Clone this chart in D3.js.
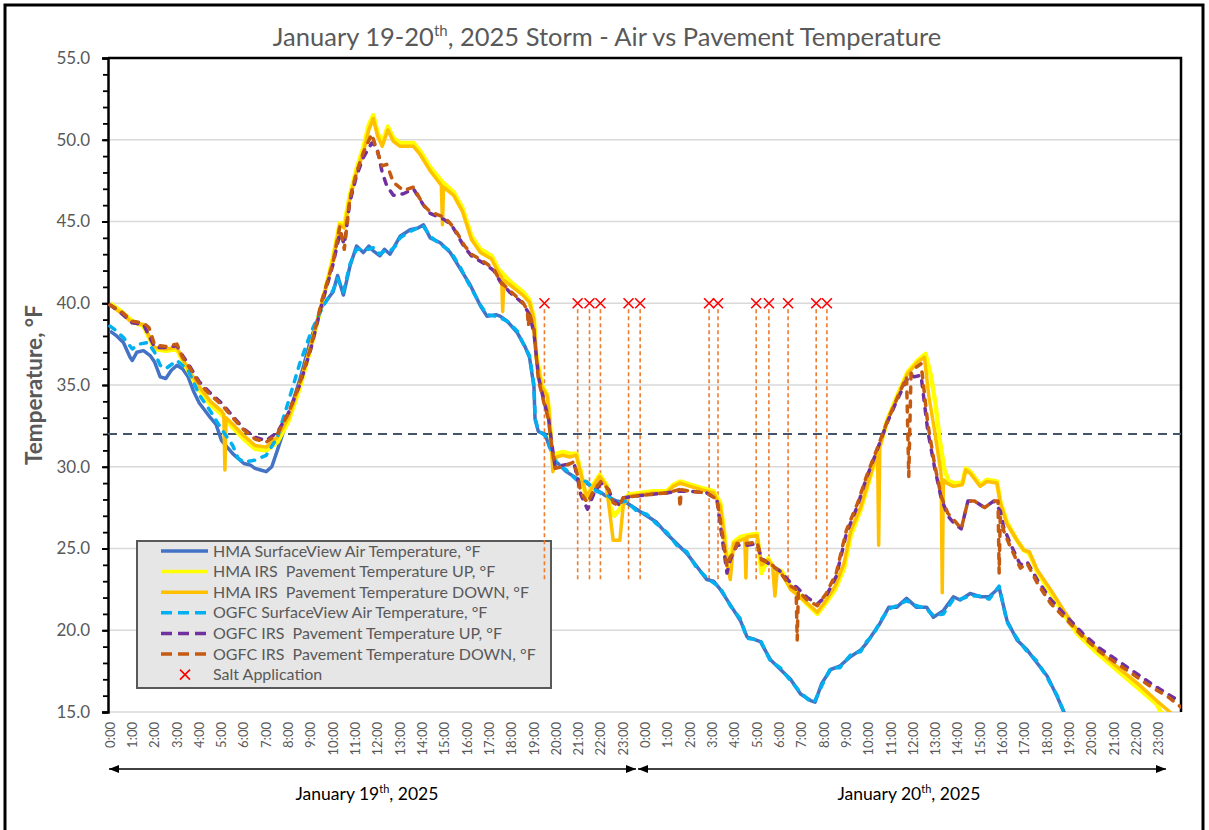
<!DOCTYPE html>
<html>
<head>
<meta charset="utf-8">
<script src="https://cdn.jsdelivr.net/npm/d3@7"></script>
<style>
  body { margin: 0; background: #fff; }
  svg text { font-family: Lato, "Open Sans", sans-serif; }
</style>
</head>
<body>
<div id="viz"></div>
<script>
// hour of the storm (0 = Jan 19 0:00, 24 = Jan 20 0:00), temperature in °F
var hmaAir = [[0,38.3],[0.3,38.0],[0.6,37.6],[0.9,36.7],[1.0,36.5],[1.2,37.0],[1.5,37.1],[1.8,36.8],[2.0,36.4],[2.25,35.5],[2.5,35.4],[2.75,35.9],[3.0,36.2],[3.25,36.0],[3.5,35.5],[3.75,34.6],[4.0,33.9],[4.5,33.0],[4.75,32.6],[5.0,31.6],[5.25,31.2],[5.5,30.8],[6.0,30.2],[6.3,30.1],[6.5,29.9],[6.75,29.8],[7.0,29.7],[7.25,30.0],[7.5,31.0],[8.0,33.1],[8.5,35.3],[9.0,37.8],[9.5,39.8],[10.0,40.7],[10.2,41.7],[10.46,40.5],[10.76,42.3],[11.05,43.5],[11.35,43.1],[11.6,43.5],[11.8,43.2],[12.1,42.9],[12.3,43.3],[12.55,43.0],[12.8,43.6],[13.0,44.1],[13.45,44.5],[13.8,44.6],[14.05,44.8],[14.35,44.0],[14.8,43.7],[15.25,43.1],[15.7,42.1],[16.15,41.1],[16.6,39.85],[16.9,39.2],[17.3,39.3],[17.5,39.2],[17.8,38.9],[18.25,38.2],[18.6,37.35],[18.8,36.7],[19.0,34.9],[19.05,32.9],[19.2,32.15],[19.5,32.0],[19.7,31.2],[20.0,30.3],[20.45,29.7],[20.9,29.3],[21.35,29.0],[21.8,28.6],[22.25,28.2],[22.7,27.9],[23.15,27.8],[23.6,27.4],[24.05,27.0],[24.5,26.6],[24.95,25.9],[25.4,25.3],[25.85,24.7],[26.3,23.9],[26.75,23.1],[27.05,23.0],[27.35,22.5],[27.8,21.55],[28.25,20.6],[28.55,19.6],[29.15,19.3],[29.6,18.2],[30.05,17.6],[30.5,17.0],[30.95,16.1],[31.4,15.7],[31.6,15.6],[31.9,16.75],[32.3,17.6],[32.7,17.8],[33.2,18.4],[33.65,18.8],[33.9,19.2],[34.2,19.8],[34.5,20.4],[34.9,21.4],[35.25,21.4],[35.7,21.95],[36.15,21.4],[36.6,21.4],[36.9,20.8],[37.35,21.2],[37.8,22.05],[38.1,21.85],[38.55,22.25],[39.0,22.05],[39.4,22.05],[39.85,22.6],[40.2,20.6],[40.65,19.4],[41.1,18.8],[41.55,18.0],[42.0,17.2],[42.45,15.95],[42.75,15.0],[43.2,14.0],[44.0,12.5]];

var hmaUp = [[0,40.0],[0.5,39.5],[1.0,38.9],[1.5,38.6],[2.0,37.2],[2.5,37.1],[3.0,37.2],[3.25,36.5],[3.5,35.9],[4.0,34.7],[4.5,33.8],[5.0,33.2],[5.5,32.4],[6.0,31.7],[6.5,31.1],[7.0,31.0],[7.5,31.5],[8.0,32.8],[8.5,34.8],[9.0,37.3],[9.5,40.0],[10.0,42.8],[10.3,44.9],[10.5,44.8],[10.75,46.6],[11.05,48.2],[11.35,49.5],[11.6,50.9],[11.8,51.5],[12.0,50.4],[12.2,49.8],[12.45,50.8],[12.7,50.1],[13.0,49.8],[13.6,49.8],[13.9,49.3],[14.35,48.3],[14.9,47.4],[15.4,46.8],[15.8,45.8],[16.2,44.1],[16.6,43.3],[17.1,42.9],[17.4,42.1],[17.95,41.3],[18.5,40.7],[18.8,40.2],[19.0,39.1],[19.1,36.9],[19.35,35.0],[19.6,34.4],[19.7,33.0],[19.8,31.0],[19.9,30.0],[20.0,30.8],[20.3,30.9],[20.6,30.8],[20.9,30.8],[21.1,29.7],[21.35,28.0],[21.65,28.9],[21.95,29.5],[22.25,28.9],[22.4,27.6],[22.6,27.0],[22.85,27.4],[23.0,27.8],[23.25,28.3],[23.75,28.4],[24.35,28.5],[24.95,28.5],[25.25,28.9],[25.55,29.1],[26.0,28.9],[26.5,28.7],[27.05,28.5],[27.35,27.8],[27.5,26.3],[27.65,24.5],[27.8,24.2],[27.95,25.4],[28.25,25.7],[28.55,25.8],[29.0,25.9],[29.2,23.5],[29.5,24.4],[29.75,23.8],[30.1,23.6],[30.5,22.6],[30.9,22.1],[31.25,21.6],[31.7,21.0],[32.1,21.7],[32.5,22.5],[32.9,23.8],[33.2,25.8],[33.65,27.4],[34.1,29.5],[34.45,31.0],[34.85,32.9],[35.3,34.4],[35.75,35.8],[36.2,36.5],[36.55,36.9],[36.8,35.5],[37.0,33.8],[37.2,31.5],[37.4,29.8],[37.6,29.1],[37.8,29.0],[38.2,29.0],[38.35,29.9],[38.55,29.7],[39.0,28.9],[39.3,29.2],[39.75,29.1],[39.9,27.9],[40.2,26.6],[40.65,25.5],[40.95,24.9],[41.2,24.7],[41.55,23.6],[42.15,22.3],[42.75,21.0],[43.35,19.8],[44.25,18.6],[45.1,17.6],[46.05,16.5],[46.9,15.5],[47.1,15.0],[48.0,14.1]];

var hmaDown = [[0,39.9],[0.5,39.4],[1.0,38.8],[1.5,38.7],[2.0,37.3],[2.5,37.2],[3.0,37.3],[3.25,36.6],[3.5,36.0],[4.0,34.9],[4.5,34.0],[5.0,33.4],[5.1,33.2],[5.15,29.8],[5.2,33.0],[5.5,32.6],[6.0,31.9],[6.5,31.3],[7.0,31.2],[7.5,31.8],[8.0,33.0],[8.5,35.0],[9.0,37.4],[9.5,40.0],[10.0,42.7],[10.3,44.8],[10.5,44.6],[10.75,46.4],[11.05,48.0],[11.35,49.2],[11.6,50.6],[11.8,51.3],[12.0,50.2],[12.2,49.6],[12.45,50.6],[12.7,49.9],[13.0,49.6],[13.6,49.6],[13.9,49.1],[14.35,48.1],[14.85,47.2],[14.9,44.8],[14.95,47.1],[15.4,46.6],[15.8,45.6],[16.2,43.9],[16.6,43.1],[17.1,42.7],[17.4,41.9],[17.55,41.6],[17.6,39.5],[17.65,41.4],[17.95,41.1],[18.5,40.5],[18.8,40.05],[19.0,39.0],[19.1,36.7],[19.35,34.9],[19.6,34.3],[19.7,32.9],[19.8,30.8],[19.85,29.7],[20.0,30.6],[20.3,30.7],[20.6,30.6],[20.9,30.7],[21.1,29.6],[21.35,28.2],[21.65,28.8],[21.95,29.4],[22.25,28.8],[22.4,27.2],[22.55,25.5],[22.85,25.5],[23.0,27.6],[23.25,28.2],[23.75,28.3],[24.35,28.4],[24.95,28.4],[25.25,28.8],[25.55,29.0],[26.0,28.8],[26.5,28.6],[27.05,28.4],[27.35,27.6],[27.5,26.1],[27.65,24.1],[27.8,23.1],[27.95,25.3],[28.25,25.5],[28.45,25.6],[28.5,23.2],[28.55,25.7],[29.0,25.8],[29.2,24.0],[29.5,24.3],[29.7,23.9],[29.8,22.1],[29.9,23.6],[30.1,23.5],[30.5,22.5],[30.9,22.05],[31.25,21.65],[31.7,21.1],[32.1,21.85],[32.5,22.7],[32.9,24.1],[33.2,26.1],[33.65,27.55],[34.1,29.6],[34.4,31.0],[34.45,25.2],[34.5,31.2],[34.85,32.9],[35.3,34.3],[35.75,35.7],[36.2,36.4],[36.5,36.7],[36.7,34.3],[36.95,32.25],[37.2,30.0],[37.25,29.5],[37.3,22.3],[37.35,29.2],[37.5,29.0],[37.8,28.8],[38.2,28.9],[38.35,29.8],[38.55,29.6],[39.0,28.8],[39.3,29.1],[39.75,29.0],[39.9,27.8],[40.2,26.5],[40.65,25.5],[40.95,24.9],[41.2,24.8],[41.55,23.7],[42.15,22.5],[42.75,21.2],[43.35,20.0],[44.25,18.8],[45.1,17.8],[46.05,16.75],[46.9,15.7],[47.5,15.0],[48.0,14.4]];

var ogfcAir = [[0,38.6],[0.3,38.3],[0.6,37.9],[1.0,37.2],[1.3,37.5],[1.7,37.6],[2.0,37.0],[2.25,36.2],[2.5,36.0],[3.0,36.5],[3.5,35.9],[4.0,34.4],[4.5,33.4],[5.0,32.3],[5.5,31.3],[5.75,30.5],[6.0,30.3],[6.5,30.4],[7.0,30.7],[7.5,31.8],[8.0,34.0],[8.5,36.3],[9.0,38.2],[9.5,39.7],[10.0,40.8],[10.2,41.5],[10.46,40.7],[10.76,42.4],[11.05,43.3],[11.35,43.3],[11.6,43.3],[11.8,43.4],[12.1,43.0],[12.3,43.2],[12.55,43.2],[12.8,43.5],[13.0,44.0],[13.45,44.4],[13.8,44.6],[14.05,44.7],[14.35,44.1],[14.8,43.6],[15.25,43.2],[15.7,42.2],[16.15,41.0],[16.6,39.9],[16.9,39.3],[17.3,39.2],[17.5,39.1],[17.8,38.9],[18.25,38.3],[18.6,37.3],[18.8,36.8],[19.0,35.0],[19.05,33.0],[19.2,32.2],[19.5,31.9],[19.7,31.3],[20.0,30.2],[20.45,29.8],[20.9,29.2],[21.35,29.1],[21.8,28.5],[22.25,28.3],[22.7,27.8],[23.15,27.9],[23.6,27.3],[24.05,27.1],[24.5,26.5],[24.95,26.0],[25.4,25.2],[25.85,24.8],[26.3,23.8],[26.75,23.2],[27.05,22.9],[27.35,22.6],[27.8,21.5],[28.25,20.7],[28.55,19.5],[29.15,19.4],[29.6,18.1],[30.05,17.7],[30.5,16.9],[30.95,16.2],[31.4,15.6],[31.6,15.7],[31.9,16.6],[32.3,17.7],[32.7,17.7],[33.2,18.5],[33.65,18.7],[33.9,19.3],[34.2,19.7],[34.5,20.5],[34.9,21.3],[35.25,21.5],[35.7,21.8],[36.15,21.5],[36.6,21.3],[36.9,20.9],[37.35,21.0],[37.8,21.9],[38.1,21.9],[38.55,22.1],[39.0,22.1],[39.4,21.9],[39.85,22.7],[40.2,20.5],[40.65,19.5],[41.1,18.7],[41.55,18.1],[42.0,17.1],[42.45,16.0],[42.75,15.0],[43.2,14.0],[44.0,12.5]];

var ogfcUp = [[0,39.9],[0.5,39.4],[1.0,38.8],[1.5,38.7],[2.0,37.3],[2.5,37.3],[3.0,37.4],[3.25,36.8],[3.5,36.3],[4.0,35.2],[4.5,34.5],[5.0,33.9],[5.5,33.1],[6.0,32.3],[6.5,31.8],[7.0,31.6],[7.5,32.1],[8.0,33.3],[8.5,35.0],[9.0,37.2],[9.5,40.0],[10.0,42.4],[10.3,44.3],[10.5,43.6],[10.75,46.2],[11.05,47.8],[11.35,48.9],[11.73,49.8],[11.95,49.6],[12.2,48.0],[12.4,47.2],[12.7,46.6],[13.15,46.7],[13.6,47.0],[14.05,46.0],[14.35,45.5],[15.0,45.1],[15.3,44.8],[15.6,44.1],[15.9,43.4],[16.2,42.9],[16.8,42.4],[17.2,42.0],[17.5,41.3],[17.9,40.7],[18.5,40.0],[18.8,39.3],[19.0,38.2],[19.2,35.5],[19.45,34.0],[19.65,33.0],[19.8,31.4],[19.95,30.0],[20.3,30.1],[20.8,30.2],[21.0,29.0],[21.1,28.3],[21.4,27.4],[21.7,28.4],[22.0,29.0],[22.35,28.6],[22.55,27.9],[22.8,27.7],[23.0,28.1],[23.5,28.2],[24.2,28.3],[24.95,28.4],[25.5,28.5],[26.0,28.5],[26.75,28.4],[27.2,28.0],[27.4,26.0],[27.65,23.5],[27.8,24.3],[27.95,24.8],[28.1,25.2],[28.55,25.2],[29.0,25.3],[29.2,24.4],[29.6,24.0],[30.05,23.6],[30.5,22.9],[30.8,22.6],[31.25,22.0],[31.7,21.6],[32.1,22.1],[32.55,23.3],[33.0,25.9],[33.5,27.6],[33.9,29.3],[34.35,30.9],[34.8,32.6],[35.25,34.0],[35.7,35.3],[35.9,35.6],[36.05,35.5],[36.35,35.6],[36.65,32.2],[36.95,30.0],[37.25,28.1],[37.55,27.0],[37.85,26.5],[38.15,26.2],[38.45,27.9],[38.75,27.9],[39.2,27.5],[39.6,27.9],[39.9,27.3],[40.05,26.3],[40.35,25.3],[40.8,24.0],[41.1,24.2],[41.55,23.1],[42.15,21.9],[42.9,20.8],[43.6,19.8],[44.35,18.9],[45.1,18.2],[45.85,17.5],[46.65,16.75],[47.4,16.1],[48.0,15.6]];

var ogfcDown = [[0,39.9],[0.5,39.5],[1.0,38.9],[1.5,38.8],[1.75,38.5],[2.0,37.45],[2.5,37.35],[3.0,37.5],[3.25,36.7],[3.5,36.2],[4.0,35.1],[4.5,34.4],[5.0,33.8],[5.5,33.0],[6.0,32.25],[6.5,31.7],[7.0,31.5],[7.5,32.0],[8.0,33.3],[8.5,35.1],[9.0,37.3],[9.5,40.2],[10.0,42.5],[10.3,44.7],[10.5,43.3],[10.75,46.4],[11.05,48.0],[11.35,49.2],[11.73,50.35],[11.95,49.4],[12.2,48.4],[12.4,48.5],[12.7,47.4],[13.15,46.9],[13.6,47.1],[14.05,46.0],[14.35,45.6],[15.0,45.25],[15.3,44.8],[15.6,44.2],[15.9,43.5],[16.2,43.0],[16.8,42.5],[17.2,42.1],[17.5,41.3],[17.9,40.8],[18.5,40.05],[18.7,39.6],[18.75,38.6],[18.8,39.4],[19.0,38.4],[19.2,35.3],[19.45,33.9],[19.65,32.9],[19.8,31.2],[19.95,29.9],[20.3,30.0],[20.8,30.3],[21.0,29.2],[21.1,28.4],[21.4,27.8],[21.7,28.6],[22.0,29.1],[22.35,28.6],[22.55,27.8],[22.8,27.6],[23.0,28.1],[23.5,28.2],[24.2,28.3],[24.95,28.4],[25.5,28.6],[25.55,27.5],[25.6,28.6],[26.0,28.5],[26.75,28.4],[27.2,28.0],[27.4,26.3],[27.65,23.9],[27.8,24.5],[27.95,24.7],[28.1,25.3],[28.55,25.3],[29.0,25.4],[29.2,24.3],[29.6,24.1],[30.05,23.5],[30.5,22.7],[30.75,22.5],[30.8,19.4],[30.85,22.4],[31.25,21.85],[31.7,21.5],[32.1,22.25],[32.55,23.5],[33.0,26.1],[33.5,27.75],[33.9,29.4],[34.35,31.0],[34.8,32.65],[35.25,34.1],[35.7,35.5],[35.8,29.4],[35.9,35.7],[36.05,36.0],[36.35,36.3],[36.65,32.65],[36.95,30.2],[37.25,28.2],[37.55,27.15],[37.85,26.7],[38.15,26.2],[38.45,27.9],[38.75,27.9],[39.2,27.5],[39.6,27.9],[39.8,27.9],[39.85,23.5],[39.9,26.9],[40.05,26.1],[40.35,25.1],[40.8,23.8],[41.1,24.1],[41.55,22.9],[42.15,21.65],[42.9,20.6],[43.6,19.6],[44.35,18.7],[45.1,18.0],[45.85,17.3],[46.65,16.55],[47.4,15.95],[48.0,15.3]];

// salt application times (hours)
var saltHours = [19.47, 20.96, 21.49, 21.98, 23.24, 23.76, 26.85, 27.25, 28.96, 29.53, 30.39, 31.65, 32.13];
var saltLevel = 40, saltBottom = 23;
var freezing = 32;

var yTicks = [15, 20, 25, 30, 35, 40, 45, 50, 55];
var hourLabels = ["0:00","1:00","2:00","3:00","4:00","5:00","6:00","7:00","8:00","9:00","10:00","11:00",
  "12:00","13:00","14:00","15:00","16:00","17:00","18:00","19:00","20:00","21:00","22:00","23:00"];
var days = [{ label: "January 19", sup: "th", tail: ", 2025", start: 0 },
            { label: "January 20", sup: "th", tail: ", 2025", start: 24 }];

var series = [
  { name: "HMA SurfaceView Air Temperature, °F", data: hmaAir, color: "#4472C4", dash: null, w: 3.5 },
  { name: "HMA IRS  Pavement Temperature UP, °F", data: hmaUp, color: "#FFFF00", dash: null, w: 4.5 },
  { name: "HMA IRS  Pavement Temperature DOWN, °F", data: hmaDown, color: "#FFC000", dash: null, w: 3.5 },
  { name: "OGFC SurfaceView Air Temperature, °F", data: ogfcAir, color: "#00B0F0", dash: "6,8", w: 3.5 },
  { name: "OGFC IRS  Pavement Temperature UP, °F", data: ogfcUp, color: "#7030A0", dash: "6,8", w: 3.5 },
  { name: "OGFC IRS  Pavement Temperature DOWN, °F", data: ogfcDown, color: "#C55A11", dash: "6,8", w: 3.5 }
];

(function() {
  var width = 1209, height = 830,
      plotLeft = 108, plotRight = 1181, plotTop = 58, plotBottom = 712;

  var x = d3.scaleLinear().domain([0, 48]).range([110, plotRight]);
  var y = d3.scaleLinear().domain([15, 55]).range([plotBottom, plotTop]);

  var svg = d3.select("#viz").append("svg")
    .attr("width", width)
    .attr("height", height);

  var defs = svg.append("defs");
  defs.append("clipPath").attr("id", "plot")
    .append("rect").attr("x", plotLeft).attr("y", plotTop)
    .attr("width", plotRight - plotLeft).attr("height", plotBottom - plotTop);
  defs.append("marker").attr("id", "head")
    .attr("viewBox", "0 0 10 10").attr("refX", 10).attr("refY", 5)
    .attr("markerWidth", 10).attr("markerHeight", 10)
    .attr("markerUnits", "userSpaceOnUse").attr("orient", "auto-start-reverse")
    .append("path").attr("d", "M0,1L10,5L0,9Z").attr("fill", "#000");

  // outer frame
  svg.append("rect")
    .attr("x", 5).attr("y", 5).attr("width", 1198).attr("height", 850)
    .attr("fill", "none").attr("stroke", "#000").attr("stroke-width", 3);

  // title
  var title = svg.append("text")
    .attr("x", 607).attr("y", 46)
    .attr("text-anchor", "middle")
    .attr("font-size", 25.5).attr("fill", "#595959");
  title.append("tspan").text("January 19-20");
  title.append("tspan").attr("font-size", 15).attr("dy", -10).text("th");
  title.append("tspan").attr("dy", 10).text(", 2025 Storm - Air vs Pavement Temperature");

  // gridlines
  svg.append("g").selectAll("line")
    .data(yTicks)
    .enter().append("line")
      .attr("x1", plotLeft).attr("x2", plotRight)
      .attr("y1", function(d) { return y(d); })
      .attr("y2", function(d) { return y(d); })
      .attr("stroke", "#D9D9D9").attr("stroke-width", 1.5);

  // y axis with minor ticks
  var yAxis = d3.axisLeft(y).tickValues(yTicks).tickFormat(d3.format(".1f")).tickSize(6).tickPadding(12);
  var gy = svg.append("g").attr("transform", "translate(" + plotLeft + ",0)").call(yAxis);
  gy.select(".domain").attr("stroke", "#000").attr("stroke-width", 2.5);
  gy.selectAll(".tick line").attr("stroke", "#000").attr("stroke-width", 2);
  gy.selectAll(".tick text").attr("font-size", 17).attr("fill", "#595959")
    .attr("font-family", "Lato, sans-serif");
  svg.append("g").attr("transform", "translate(" + plotLeft + ",0)")
    .call(d3.axisLeft(y).ticks(40).tickSize(5).tickFormat(""))
    .call(function(g) { g.select(".domain").remove(); })
    .selectAll("line").attr("stroke", "#000").attr("stroke-width", 1.8);

  // plot frame: top and right edges
  svg.append("path")
    .attr("d", d3.line()([[plotLeft, plotTop], [plotRight, plotTop], [plotRight, plotBottom]]))
    .attr("fill", "none").attr("stroke", "#000").attr("stroke-width", 2.5);

  svg.append("text")
    .attr("transform", "translate(42," + ((plotTop + plotBottom) / 2) + ") rotate(-90)")
    .attr("text-anchor", "middle")
    .attr("font-size", 22.5).attr("font-weight", "bold").attr("fill", "#595959")
    .text("Temperature, °F");

  // hour labels for both days
  var hourTicks = [];
  days.forEach(function(day) {
    hourLabels.forEach(function(l, i) { hourTicks.push({ h: day.start + i, label: l }); });
  });
  svg.append("g").selectAll("text")
    .data(hourTicks)
    .enter().append("text")
      .attr("transform", function(d) { return "translate(" + x(d.h) + ",722) rotate(-90)"; })
      .attr("text-anchor", "end").attr("dy", "0.35em")
      .attr("font-size", 13).attr("fill", "#595959")
      .text(function(d) { return d.label; });

  // day arrows and labels
  days.forEach(function(day, i) {
    var x0 = i ? 638 : 109, x1 = i ? 1166 : 636;
    svg.append("line")
      .attr("x1", x0).attr("x2", x1).attr("y1", 769).attr("y2", 769)
      .attr("stroke", "#000").attr("stroke-width", 1.3)
      .attr("marker-start", "url(#head)").attr("marker-end", "url(#head)");
    var t = svg.append("text")
      .attr("x", i ? 909 : 367).attr("y", 800)
      .attr("text-anchor", "middle").attr("font-size", 17.5).attr("fill", "#000");
    t.append("tspan").text(day.label);
    t.append("tspan").attr("font-size", 11).attr("dy", -7).text(day.sup);
    t.append("tspan").attr("dy", 7).text(day.tail);
  });

  // freezing line
  svg.append("line")
    .attr("x1", plotLeft).attr("x2", plotRight)
    .attr("y1", y(freezing)).attr("y2", y(freezing))
    .attr("stroke", "#44546A").attr("stroke-width", 2).attr("stroke-dasharray", "9,6");

  // legend (drawn before salt lines, which cross it)
  var legend = svg.append("g");
  legend.append("rect")
    .attr("x", 137).attr("y", 541).attr("width", 414).attr("height", 147)
    .attr("fill", "#E6E6E6").attr("stroke", "#595959").attr("stroke-width", 2);
  var rows = legend.selectAll("g.row")
    .data(series)
    .enter().append("g")
      .attr("class", "row")
      .attr("transform", function(d, i) { return "translate(0," + (551 + i * 20.6) + ")"; });
  rows.append("line")
    .attr("x1", 161).attr("x2", 208)
    .attr("stroke", function(d) { return d.color; })
    .attr("stroke-width", 3.5)
    .attr("stroke-dasharray", function(d) { return d.dash ? "11,6" : null; });
  rows.append("text")
    .attr("x", 213).attr("dy", "0.35em")
    .attr("font-size", 16).attr("fill", "#595959")
    .style("white-space", "pre")
    .text(function(d) { return d.name; });
  var saltRow = legend.append("g").attr("transform", "translate(0," + (551 + 6 * 20.6) + ")");
  saltRow.append("path").attr("d", "M-5,-5L5,5M-5,5L5,-5")
    .attr("transform", "translate(185,0)")
    .attr("stroke", "#FF0000").attr("stroke-width", 1.6);
  saltRow.append("text")
    .attr("x", 213).attr("dy", "0.35em")
    .attr("font-size", 16).attr("fill", "#595959")
    .text("Salt Application");

  // salt application verticals
  svg.append("g").selectAll("line")
    .data(saltHours)
    .enter().append("line")
      .attr("x1", function(d) { return x(d); })
      .attr("x2", function(d) { return x(d); })
      .attr("y1", y(saltLevel) + 6).attr("y2", y(saltBottom))
      .attr("stroke", "#ED7D31").attr("stroke-width", 1.6).attr("stroke-dasharray", "4,3");

  // temperature lines
  var line = d3.line()
    .x(function(d) { return x(d[0]); })
    .y(function(d) { return y(d[1]); });

  svg.append("g").attr("clip-path", "url(#plot)")
    .selectAll("path")
    .data(series)
    .enter().append("path")
      .attr("d", function(d) { return line(d.data); })
      .attr("fill", "none")
      .attr("stroke", function(d) { return d.color; })
      .attr("stroke-width", function(d) { return d.w; })
      .attr("stroke-linejoin", "round")
      .attr("stroke-linecap", function(d) { return d.dash ? "round" : "butt"; })
      .attr("stroke-dasharray", function(d) { return d.dash; });

  // salt markers
  svg.append("g").selectAll("path")
    .data(saltHours)
    .enter().append("path")
      .attr("d", "M-5,-5L5,5M-5,5L5,-5")
      .attr("transform", function(d) { return "translate(" + x(d) + "," + y(saltLevel) + ")"; })
      .attr("stroke", "#FF0000").attr("stroke-width", 1.6);
})();
</script>
</body>
</html>
